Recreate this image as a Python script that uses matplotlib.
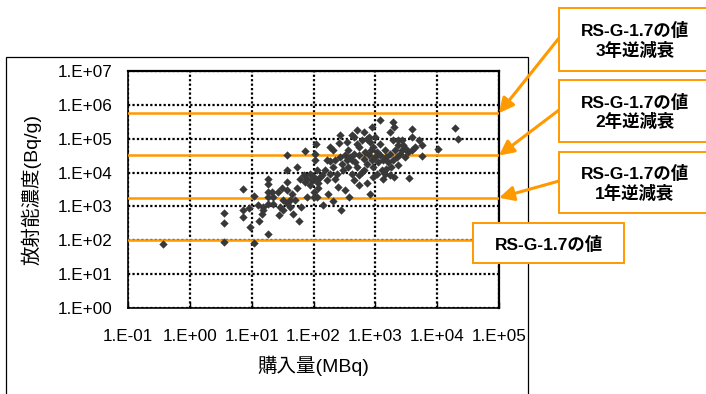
import numpy as np
import matplotlib
matplotlib.use("Agg")
import matplotlib.pyplot as plt
import matplotlib.ticker as ticker
from matplotlib.patches import Rectangle

plt.rcParams['font.family'] = ['Liberation Sans', 'Noto Sans CJK JP']

# -----------------------------------------------------------------
# data: purchase amount (MBq) vs. concentration (Bq/g), log10 values
# -----------------------------------------------------------------
purchase_exp = [
    -0.44, 0.56, 0.56, 0.56, 0.86, 0.86, 0.86, 0.97, 1.04, 1.04, 0.95, 1.11, 1.12, 1.19,
    1.26, 1.26, 1.26, 1.26, 1.26, 1.26, 1.34, 1.44, 1.49, 1.50, 1.57, 1.57, 1.57, 1.57,
    1.57, 1.66, 1.67, 1.73, 1.74, 1.77, 1.80, 1.87, 1.78, 1.86, 1.95, 2.00, 2.04, 2.03,
    2.03, 2.05, 2.11, 2.15, 2.19, 2.24, 2.27, 2.31, 2.35, 2.40, 2.43, 2.42, 2.44, 2.48,
    2.51, 2.54, 2.56, 2.58, 2.62, 2.63, 2.70, 2.70, 2.73, 2.73, 2.78, 2.81, 2.86, 2.91,
    2.94, 2.97, 3.00, 3.02, 3.08, 3.10, 3.13, 3.18, 3.24, 3.26, 3.28, 3.30, 3.30, 3.37,
    3.43, 3.50, 3.55, 3.59, 3.59, 3.64, 3.75, 3.75, 4.02, 4.29, 4.33,
    2.32, 2.38, 2.46, 2.54, 2.59, 2.65, 2.67, 2.74, 2.81, 2.84, 2.86, 2.89, 2.93, 2.94,
    2.97, 3.00, 3.02, 3.05, 3.08, 3.13, 3.16, 3.18, 3.21, 3.24, 3.29, 3.32, 3.35, 3.37,
    3.40, 3.45, 3.48, 3.53, 2.73, 2.78, 2.65, 2.91, 2.90, 2.81, 2.70, 2.62, 2.56, 2.51,
    2.43, 2.35, 2.27, 2.22, 2.13, 2.08, 2.05, 2.00, 1.97, 1.94, 1.89, 1.85, 2.05, 2.00,
    2.08, 1.89, 1.70, 1.62, 1.51, 1.46, 1.33, 1.35, 1.19, 1.16, 1.42, 1.62, 2.32, 2.22,
    2.27, 2.65, 2.86, 2.97, 3.16, 3.24, 3.08, 3.37, 3.43, 3.59, 3.70, 3.29,
]
conc_exp = [
    1.88, 2.50, 2.81, 1.96, 3.51, 2.89, 2.68, 2.40, 3.30, 1.91, 2.94, 3.04, 2.58, 2.89,
    3.80, 3.66, 3.43, 3.28, 3.07, 2.19, 3.06, 2.75, 3.55, 2.89, 4.51, 4.07, 3.73, 3.48,
    3.11, 3.38, 2.79, 3.53, 4.15, 2.58, 2.99, 4.64, 3.82, 3.73, 3.97, 3.28, 4.85, 4.36,
    4.56, 3.77, 3.87, 3.04, 4.07, 3.38, 4.34, 3.17, 4.36, 3.58, 5.10, 4.87, 2.89, 4.07,
    3.48, 4.90, 4.66, 3.28, 5.10, 4.36, 5.25, 4.85, 3.63, 3.92, 4.02, 5.20, 5.00, 3.36,
    5.36, 4.75, 5.05, 4.61, 5.54, 4.07, 3.82, 4.46, 5.20, 4.17, 5.49, 5.34, 3.87, 4.80,
    4.95, 4.71, 3.84, 5.29, 5.05, 4.75, 4.80, 4.49, 4.71, 5.32, 4.98,
    4.17, 3.97, 4.26, 4.36, 4.46, 4.56, 4.31, 4.51, 4.41, 4.61, 4.26, 4.51, 4.66, 4.36,
    4.17, 4.46, 3.97, 4.31, 4.85, 4.36, 4.66, 4.12, 4.31, 4.56, 4.36, 4.66, 4.46, 4.22,
    4.56, 4.80, 4.46, 4.61, 4.75, 4.95, 5.05, 4.90, 5.05, 4.07, 4.17, 3.97, 4.17, 4.51,
    4.46, 3.82, 3.97, 3.77, 3.92, 3.68, 4.07, 3.87, 3.77, 3.63, 3.82, 3.92, 3.28, 3.43,
    3.53, 3.28, 3.19, 3.19, 3.19, 2.99, 3.43, 3.28, 2.99, 2.79, 3.43, 2.99, 4.66, 4.36,
    4.75, 3.77, 3.68, 3.87, 3.97, 3.92, 4.51, 4.95, 4.66, 4.66, 4.95, 4.95,
]

# reference levels: RS-G-1.7 value and its back-decayed values (1, 2, 3 years)
level_values = [1.0e2, 1.8e3, 3.2e4, 5.7e5]
level_labels = ["RS-G-1.7の値",
                "RS-G-1.7の値\n1年逆減衰",
                "RS-G-1.7の値\n2年逆減衰",
                "RS-G-1.7の値\n3年逆減衰"]

x_exps = list(range(-1, 6))
y_exps = list(range(0, 8))

ORANGE = '#FF9900'
W, H = 706, 394


def fx(px):
    return px / W


def fy(py):
    # pixel rows counted from the top
    return 1 - py / H


fig = plt.figure(figsize=(W / 100, H / 100), dpi=100)
ax = fig.add_axes([fx(128), fy(308), fx(499) - fx(128), fy(71) - fy(308)])

# outer chart frame
fig.add_artist(Rectangle((fx(6), -0.05), fx(528) - fx(6), fy(57) + 0.05,
                         transform=fig.transFigure, fill=False,
                         edgecolor='black', lw=0.9, zorder=0))

ax.set_xscale('log')
ax.set_yscale('log')
ax.set_xlim(10.0 ** x_exps[0], 10.0 ** x_exps[-1])
ax.set_ylim(10.0 ** y_exps[0], 10.0 ** y_exps[-1])

ax.set_xticks([10.0 ** e for e in x_exps])
ax.set_yticks([10.0 ** e for e in y_exps])
ax.xaxis.set_minor_locator(ticker.NullLocator())
ax.yaxis.set_minor_locator(ticker.NullLocator())
sci = ticker.FuncFormatter(lambda v, pos: "1.E{:+03d}".format(int(round(np.log10(v)))))
ax.xaxis.set_major_formatter(sci)
ax.yaxis.set_major_formatter(sci)
ax.tick_params(axis='x', direction='in', length=4, width=1, pad=15, labelsize=12.3)
ax.tick_params(axis='y', length=0, pad=11, labelsize=12.3)

ax.grid(True, color='black', linestyle=(0, (1, 1)), lw=1.6)
for side in ['top', 'right']:
    ax.spines[side].set_linestyle((0, (1, 1)))
    ax.spines[side].set_linewidth(1.6)
for side in ['left', 'bottom']:
    ax.spines[side].set_linewidth(1.2)

for v in level_values:
    ax.axhline(v, color=ORANGE, lw=1.8, zorder=3)

ax.scatter([10.0 ** e for e in purchase_exp], [10.0 ** e for e in conc_exp],
           marker='D', s=18, color='#383838', linewidths=0, zorder=4)

ax.set_xlabel('購入量(MBq)', fontsize=14)
ax.set_ylabel('放射能濃度(Bq/g)', fontsize=14)
ax.xaxis.set_label_coords(0.5, -0.2)
ax.yaxis.set_label_coords(-0.232, 0.5)

# callout boxes (left, top, right, bottom in pixels) and arrow start points
boxes = [(473, 223, 624, 263), (559, 152, 720, 213),
         (559, 80, 720, 142), (559, 8, 720, 71)]
arrow_from = [None, (559, 181), (559, 110), (559, 38)]

for lab, val, (l, t, r, b), start in zip(level_labels, level_values, boxes, arrow_from):
    fig.add_artist(Rectangle((fx(l), fy(b)), fx(r) - fx(l), fy(t) - fy(b),
                             transform=fig.transFigure, facecolor='white',
                             edgecolor=ORANGE, lw=1.4, zorder=5))
    fig.text(fx((l + min(r, 711)) / 2), fy((t + b) / 2 + 1), lab, ha='center',
             va='center', fontsize=12.5, fontweight='bold', linespacing=1.15,
             zorder=6)
    if start is not None:
        ax.annotate('', xy=(10.0 ** x_exps[-1], val), xycoords='data',
                    xytext=(fx(start[0]), fy(start[1])), textcoords='figure fraction',
                    arrowprops=dict(arrowstyle='-|>', color=ORANGE, lw=2.2,
                                    mutation_scale=22, shrinkA=0, shrinkB=0),
                    annotation_clip=False, zorder=6)

fig.savefig('out.png', dpi=100)
